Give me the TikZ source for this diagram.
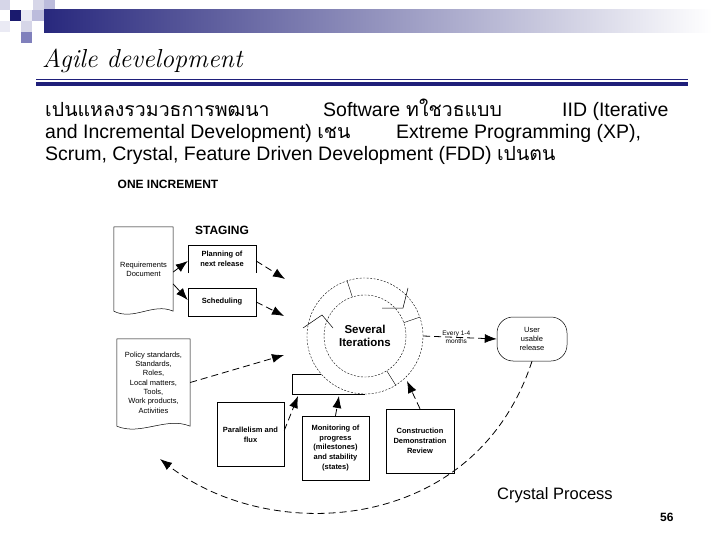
\documentclass[tikz,border=0pt]{standalone}
\usepackage{fontspec}
\setmainfont{Liberation Sans}
\newfontfamily\thaifont[Script=Thai]{Loma}
\newfontfamily\titlefont{Latin Modern Roman}
\usetikzlibrary{arrows.meta,positioning}
\definecolor{cNavy}{RGB}{31,31,122}
\definecolor{cBar}{RGB}{40,40,125}
\definecolor{cSqD}{RGB}{26,26,110}
\definecolor{cSqA}{RGB}{234,234,244}
\definecolor{cSqB}{RGB}{214,214,232}
\definecolor{cSqC}{RGB}{188,188,220}
\definecolor{cSqM}{RGB}{128,128,188}
\newcommand\thtxt[1]{{\thaifont #1}}
\tikzset{mytext/.style={
  anchor=base west,
  inner sep=0pt,
  font=\fontsize{19.5}{22}\selectfont,
  }
}
\tikzset{mylabel/.style={
  inner sep=0pt,
  font=\bfseries\fontsize{12}{14}\selectfont,
  }
}
\tikzset{mydoc/.style={
  inner sep=0pt,
  align=center,
  font=\fontsize{7.5}{9.3}\selectfont,
  }
}
\tikzset{mystage/.style={
  minimum width=68,
  minimum height=28,
  inner sep=0pt,
  align=center,
  font=\bfseries\fontsize{7.5}{10}\selectfont,
  }
}
\tikzset{mybox/.style={
  draw,
  line width=0.5pt,
  inner sep=0pt,
  align=center,
  font=\bfseries\fontsize{7.5}{9.8}\selectfont,
  }
}
\tikzset{myring/.style={
  circle,
  draw,
  line width=0.4pt,
  dash pattern=on 2pt off 1.5pt,
  inner sep=0pt,
  }
}
\tikzset{myarrow/.style={line width=0.8pt, -{Latex[length=12pt,width=9pt]}}}
\tikzset{mydash/.style={myarrow, dash pattern=on 7pt off 4pt}}

\begin{document}
\begin{tikzpicture}[x=1pt,y=-1pt]
  \useasboundingbox (0,0) rectangle (720,540);
  % slide header
  \fill[cSqB] (0,0) rectangle (10,10);
  \fill[cSqB] (33,0) rectangle (44,10);
  \fill[cSqC] (44,0) rectangle (55,10);
  \fill[cSqD] (10,10) rectangle (21,21);
  \fill[cSqA] (21,10) rectangle (32,21);
  \fill[cSqC] (32,10) rectangle (44,21);
  \fill[cSqA] (0,21) rectangle (10,32);
  \fill[cSqB] (21,21) rectangle (32,32);
  \fill[cSqM] (21,32) rectangle (32,43);
  \shade[left color=cBar, right color=white] (44,10) rectangle (712,33);
  \node[anchor=base west, inner sep=0pt, font=\titlefont\itshape\fontsize{26}{30}\selectfont] (title) at (42,68) {Agile development};
  \draw[cNavy, line width=0.8pt] (36,79) -- (688,79);
  \fill[cNavy] (36,82) rectangle (688,86);

  % body text
  \node[mytext] (l1a) at (45,117) {\thtxt{เปนแหลงรวมวธการพฒนา}};
  \node[mytext] (l1b) at (323,117) {Software};
  \node[mytext] (l1c) at (406,117) {\thtxt{ทใชวธแบบ}};
  \node[mytext] (l1d) at (562,117) {IID (Iterative};
  \node[mytext] (l2a) at (45,139) {and Incremental Development) \thtxt{เชน}};
  \node[mytext] (l2b) at (396,139) {Extreme Programming (XP),};
  \node[mytext] (l3a) at (45,161) {Scrum, Crystal, Feature Driven Development (FDD) \thtxt{เปนตน}};

  % crystal diagram
  \node[mylabel] (incr) at (168,184) {ONE INCREMENT};
  \node[mydoc, minimum width=59, minimum height=84] (reqdoc) at (143.5,269) {Requirements\\Document};
  \node[mylabel] (staging) at (222,230) {STAGING};
  \node[mystage] (plan) at (222,259) {Planning of\\next release};
  \node[mystage, draw, line width=0.5pt] (sched) at (222,302) {Scheduling};
  \node[mydoc, minimum width=73, minimum height=87] (policy) at (153.5,382.5) {Policy standards,\\Standards,\\Roles,\\Local matters,\\Tools,\\Work products,\\Activities};
  \draw[line width=0.5pt] (plan.south west) |- (plan.north east) -- (plan.south east);
  \draw[line width=0.5pt] (reqdoc.south west) -- (reqdoc.north west) -- (reqdoc.north east) -- (reqdoc.south east)
    .. controls +(-20,-9) and +(20,10) .. (reqdoc.south west);
  \draw[line width=0.5pt] (policy.south west) -- (policy.north west) -- (policy.north east) -- (policy.south east)
    .. controls +(-24,-10) and +(24,10) .. (policy.south west);

  \node[myring, minimum size=116] (outer) at (365,336) {};
  \node[myring, minimum size=82, align=center, font=\bfseries\fontsize{11.5}{13}\selectfont] (iter) at (365,336) {Several\\Iterations};
  \draw[line width=0.4pt] (iter.108) -- (outer.108);
  \draw[line width=0.4pt] (iter.19) -- (outer.19);
  \draw[line width=0.4pt] (iter.-58) -- (outer.-58);
  \draw[line width=0.5pt, shift={(outer.center)}] (-62,-8) -- (-43,-21) -- (-32,-8);
  \draw[line width=0.5pt, shift={(outer.center)}] (17,-28) -- (38,-28) -- (43,-48);
  \draw[line width=0.5pt] (outer.221) -- ++(-29,0) |- (outer.south);

  \node[mybox, minimum width=67, minimum height=64] (para) at (250.5,434.5) {Parallelism and\\flux};
  \node[mybox, minimum width=67, minimum height=64] (mon) at (335.5,448) {Monitoring of\\progress\\(milestones)\\and stability\\(states)};
  \node[mybox, minimum width=68, minimum height=64] (cons) at (420,441) {Construction\\Demonstration\\Review};
  \node[draw, line width=0.5pt, rounded corners=16pt, minimum width=70, minimum height=44, inner sep=0pt,
        align=center, font=\fontsize{7.5}{9}\selectfont] (user) at (532,339) {User\\usable\\release};

  \coordinate (inA) at (285,279);
  \coordinate (inB) at (284,316);
  \coordinate (inC) at (284,355);
  \coordinate (inD) at (298,396);
  \coordinate (inE) at (339,396);
  \coordinate (inF) at (407,381);
  \coordinate (back) at (160,459);

  \draw[myarrow] ([yshift=-3pt]reqdoc.east) -- ([yshift=-2pt]plan.west);
  \draw[myarrow] ([yshift=-15pt]reqdoc.east) -- ([yshift=2pt]sched.west);
  \draw[mydash] ([yshift=-2pt]plan.east) -- (inA);
  \draw[mydash] (sched.east) -- (inB);
  \draw[mydash] (policy.east) -- (inC);
  \draw[mydash] ([yshift=4pt]para.east) -- (inD);
  \draw[mydash] (mon.north) -- (inE);
  \draw[mydash] (cons.north) -- (inF);
  \draw[mydash] (outer.east) -- node[pos=0.45, inner sep=0pt, align=center, font=\fontsize{6.5}{8.5}\selectfont] (every) {Every 1-4\\months} (user.west);
  \draw[mydash] (user.south) .. controls (475,535) and (270,545) .. (back);

  \node[anchor=base west, inner sep=0pt, font=\fontsize{16.5}{18}\selectfont] (caption) at (497,499) {Crystal Process};
  \node[anchor=base west, inner sep=0pt, font=\bfseries\fontsize{12}{14}\selectfont] (pageno) at (660,521) {56};
\end{tikzpicture}
\end{document}
